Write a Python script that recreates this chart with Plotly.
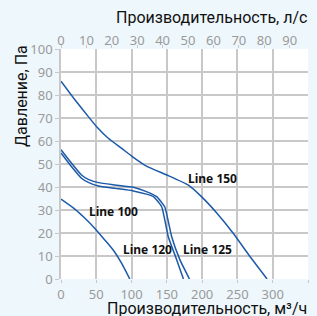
import plotly.graph_objects as go

# Data (flow m3/h, pressure Pa)
line150_q = [0, 20, 38.7, 50.5, 67, 86, 102.5, 121, 150, 180, 199, 221, 244, 268, 292]
line150_p = [86, 77.8, 70.6, 66.2, 61.2, 56.8, 52.9, 49.1, 45.2, 40.9, 35.8, 28.6, 19.9, 9.7, 0]

line125_q = [0, 15, 29, 38.7, 53, 76.5, 102.5, 121, 135.6, 147, 156.8, 168.6, 182]
line125_p = [56.2, 50.3, 45.2, 43.3, 41.9, 40.9, 39.9, 38, 35.8, 31.4, 18.4, 8.3, 0]

line120_q = [0, 15, 29, 38.7, 53, 76.5, 102.5, 121, 131, 142.7, 152, 164, 173.5]
line120_p = [54.8, 48.8, 43.8, 42, 40.4, 39.4, 38.3, 36.9, 35.8, 31.4, 18.4, 8.3, 0]

line100_q = [0, 20, 34, 48, 62, 74, 86, 97.5]
line100_p = [34.7, 30.3, 26.4, 22, 17, 12.6, 6.8, 0]

labels = ["Line 150", "Line 100", "Line 120", "Line 125"]
label_q = [215, 74, 122, 208]
label_p = [43.5, 29.2, 13, 13]

x_ticks = [0, 50, 100, 150, 200, 250, 300, 350]
x2_ticks = [0, 10, 20, 30, 40, 50, 60, 70, 80, 90]
y_ticks = [0, 10, 20, 30, 40, 50, 60, 70, 80, 90, 100]

BLUE = "#1c5aa8"
GRID = "#c8c8c8"
TICK = "#9a9a9a"
FONT = "Noto Sans"
TFONT = "Roboto"

fig = go.Figure()
for q, p in [(line150_q, line150_p), (line125_q, line125_p),
             (line120_q, line120_p), (line100_q, line100_p)]:
    fig.add_trace(go.Scatter(x=q, y=p, mode="lines",
                             line=dict(color=BLUE, width=1.5, shape="spline", smoothing=0.4),
                             showlegend=False, hoverinfo="skip"))

# invisible trace for top axis
fig.add_trace(go.Scatter(x=[0, 350 / 3.6], y=[0, 0], xaxis="x2", mode="lines",
                         line=dict(width=0), showlegend=False, hoverinfo="skip"))

for t, q, p in zip(labels, label_q, label_p):
    fig.add_annotation(x=q, y=p, text="<b>" + t + "</b>", showarrow=False,
                       font=dict(family=FONT, size=12, color="#111111"))

fig.add_annotation(xref="paper", yref="paper", x=1.0, xshift=1, y=1.0, yshift=20, xanchor="right", yanchor="bottom",
                   text="Производительность, л/с", showarrow=False,
                   font=dict(family=TFONT, size=16, color="#111111"))
fig.add_annotation(xref="paper", yref="paper", x=1.0, xshift=1, y=0, yshift=-18, xanchor="right", yanchor="top",
                   text="Производительность, м³/ч", showarrow=False,
                   font=dict(family=TFONT, size=16, color="#111111"))
fig.add_annotation(xref="paper", yref="paper", x=0, xshift=-40, y=1.0, yshift=6, xanchor="center", yanchor="top",
                   text="Давление, Па", showarrow=False, textangle=-90,
                   font=dict(family=TFONT, size=16, color="#111111"))

fig.update_layout(
    width=317, height=316,
    margin=dict(l=61, r=9, t=49, b=37, autoexpand=False),
    paper_bgcolor="#eef7fc", plot_bgcolor="white",
    font=dict(family=FONT, size=13, color=TICK),
    xaxis=dict(range=[0, 350], tickvals=x_ticks, showgrid=True, gridcolor=GRID, gridwidth=1.5,
               zeroline=False, showline=False, ticks="outside", ticklen=3, tickcolor=GRID,
               automargin=False, tickfont=dict(size=13, color=TICK)),
    xaxis2=dict(range=[0, 350 / 3.6], tickvals=x2_ticks, overlaying="x", side="top", showgrid=False,
                zeroline=False, showline=False, ticks="outside", ticklen=3, tickcolor=GRID,
                automargin=False, ticklabelstandoff=-5, tickfont=dict(size=13, color=TICK)),
    yaxis=dict(range=[0, 100], tickvals=y_ticks, showgrid=True, gridcolor=GRID, gridwidth=1.5,
               zeroline=False, showline=True, linecolor=GRID, linewidth=1.5, automargin=False,
               ticks="outside", ticklen=4, tickcolor=GRID, tickfont=dict(size=13, color=TICK)),
)

fig.write_html("out.html", config={"displayModeBar": False},
               post_script="document.body.style.margin='0';document.body.style.padding='0';document.body.style.overflow='hidden';")
